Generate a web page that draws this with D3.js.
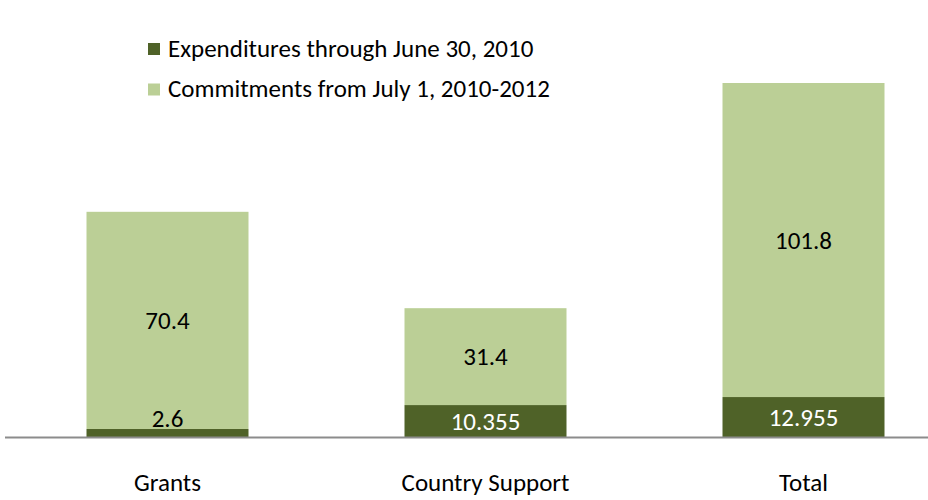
<html>
<head>
  <script src="https://cdn.jsdelivr.net/npm/d3@7"></script>
  <style>
    body { margin:0; padding:0; background:white; }
    text { font-family: Carlito, Lato, "Open Sans", sans-serif; }
  </style>
</head>
<body>
<div class="chart"></div>
<script>
  var categories = ["Grants", "Country Support", "Total"];
  var expenditures = [2.6, 10.355, 12.955];
  var commitments = [70.4, 31.4, 101.8];
  var seriesNames = ["Expenditures through June 30, 2010", "Commitments from July 1, 2010-2012"];
  var colors = ["#4f6228", "#bbcf96"];

  var W = 928, H = 500;
  var baseline = 437;
  var FS = 25;

  var svg = d3.select("div.chart").append("svg")
      .attr("width", W)
      .attr("height", H);

  // bar centres, hand-tuned to the reference
  var x = d3.scalePoint().domain(categories).range([167.5, 803.5]);
  var barW = 162;

  var y = d3.scaleLinear()
      .domain([0, 114.755])
      .range([baseline, 83]);

  var rows = categories.map(function(c, i) {
    return {cat: c, exp: expenditures[i], com: commitments[i]};
  });

  var g = svg.selectAll("g.bar").data(rows).enter().append("g").attr("class", "bar");

  g.append("rect")
    .attr("x", function(d) { return x(d.cat) - barW / 2; })
    .attr("width", barW)
    .attr("y", function(d) { return y(d.exp); })
    .attr("height", function(d) { return y(0) - y(d.exp); })
    .attr("fill", colors[0]);

  g.append("rect")
    .attr("x", function(d) { return x(d.cat) - barW / 2; })
    .attr("width", barW)
    .attr("y", function(d) { return y(d.exp + d.com); })
    .attr("height", function(d) { return y(d.exp) - y(d.exp + d.com); })
    .attr("fill", colors[1]);

  // value labels
  g.append("text")
    .attr("x", function(d) { return x(d.cat); })
    .attr("y", function(d) { return y(d.exp + d.com / 2); })
    .attr("dy", "0.35em")
    .attr("text-anchor", "middle")
    .attr("font-size", FS)
    .attr("fill", "#000")
    .text(function(d) { return d.com; });

  g.append("text")
    .attr("x", function(d) { return x(d.cat); })
    .attr("y", function(d) {
      var h = y(0) - y(d.exp);
      return h < 25 ? baseline - 19 : y(d.exp / 2);
    })
    .attr("dy", "0.35em")
    .attr("text-anchor", "middle")
    .attr("font-size", FS)
    .attr("fill", function(d) { return (y(0) - y(d.exp)) < 25 ? "#000" : "#fff"; })
    .text(function(d) { return d.exp; });

  // axis line
  svg.append("line")
    .attr("x1", 5).attr("x2", W)
    .attr("y1", baseline + 0.5).attr("y2", baseline + 0.5)
    .attr("stroke", "#8c8c8c")
    .attr("stroke-width", 2);

  svg.selectAll("text.cat").data(categories).enter().append("text")
    .attr("class", "cat")
    .attr("x", function(d) { return x(d); })
    .attr("y", 482)
    .attr("dy", "0.35em")
    .attr("text-anchor", "middle")
    .attr("font-size", FS)
    .attr("fill", "#000")
    .text(function(d) { return d; });

  // legend
  var leg = svg.selectAll("g.leg").data(seriesNames).enter().append("g")
    .attr("class", "leg")
    .attr("transform", function(d, i) { return "translate(148," + (43 + i * 40.5) + ")"; });
  leg.append("rect").attr("width", 12).attr("height", 12)
    .attr("fill", function(d, i) { return colors[i]; });
  leg.append("text").attr("x", 20).attr("y", 5).attr("dy", "0.35em")
    .attr("font-size", FS)
    .attr("fill", "#000")
    .text(function(d) { return d; });
</script>
</body>
</html>
